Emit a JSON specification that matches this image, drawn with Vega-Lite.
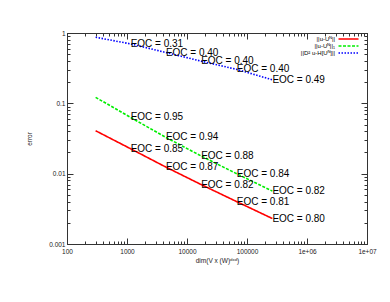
{
  "$schema": "https://vega.github.io/schema/vega-lite/v6.json",
  "width": 300,
  "height": 211,
  "autosize": "none",
  "padding": {"left": 67, "top": 33, "right": 23, "bottom": 58},
  "background": "white",
  "config": {
    "view": {"stroke": "#555", "strokeWidth": 1},
    "font": "Liberation Sans",
    "axis": {"grid": false, "domainColor": "#333", "tickColor": "#333", "labelColor": "#222", "titleColor": "#222", "labelFont": "Liberation Sans", "titleFont": "Liberation Sans", "labelFontSize": 6.5, "titleFontSize": 6.5, "titleFontWeight": "normal", "labelOverlap": false, "labelBound": false, "labelFlush": false}
  },
  "data": {
    "values": [
      {"series": "r", "dim": 300, "error": 0.0408, "label": ""},
      {"series": "r", "dim": 1150, "error": 0.0226, "label": "EOC = 0.85"},
      {"series": "r", "dim": 4450, "error": 0.0124, "label": "EOC = 0.87"},
      {"series": "r", "dim": 17200, "error": 0.0070, "label": "EOC = 0.82"},
      {"series": "r", "dim": 67500, "error": 0.0040, "label": "EOC = 0.81"},
      {"series": "r", "dim": 265000, "error": 0.0023, "label": "EOC = 0.80"},
      {"series": "g", "dim": 300, "error": 0.1217, "label": ""},
      {"series": "g", "dim": 1150, "error": 0.0630, "label": "EOC = 0.95"},
      {"series": "g", "dim": 4450, "error": 0.0328, "label": "EOC = 0.94"},
      {"series": "g", "dim": 17200, "error": 0.01785, "label": "EOC = 0.88"},
      {"series": "g", "dim": 67500, "error": 0.00997, "label": "EOC = 0.84"},
      {"series": "g", "dim": 265000, "error": 0.00565, "label": "EOC = 0.82"},
      {"series": "b", "dim": 300, "error": 0.87, "label": ""},
      {"series": "b", "dim": 1150, "error": 0.70, "label": "EOC = 0.31"},
      {"series": "b", "dim": 4450, "error": 0.528, "label": "EOC = 0.40"},
      {"series": "b", "dim": 17200, "error": 0.398, "label": "EOC = 0.40"},
      {"series": "b", "dim": 67500, "error": 0.304, "label": "EOC = 0.40"},
      {"series": "b", "dim": 265000, "error": 0.216, "label": "EOC = 0.49"}
    ]
  },
  "layer": [
    {
      "mark": {"type": "line", "strokeWidth": 1.6},
      "encoding": {
        "x": {"field": "dim", "type": "quantitative",
          "scale": {"type": "log", "domain": [100, 10000000], "nice": false},
          "axis": {"orient": "bottom", "title": "dim(V x (W)ᵈˣᵈ)", "titlePadding": 0,
            "values": [100,200,300,400,500,600,700,800,900,1000,2000,3000,4000,5000,6000,7000,8000,9000,10000,20000,30000,40000,50000,60000,70000,80000,90000,100000,200000,300000,400000,500000,600000,700000,800000,900000,1000000,2000000,3000000,4000000,5000000,6000000,7000000,8000000,9000000,10000000],
            "labelExpr": "abs(log(datum.value)/LN10 - round(log(datum.value)/LN10)) < 0.001 ? (datum.value >= 1000000 ? '1e+0' + round(log(datum.value)/LN10) : format(datum.value, 'd')) : ''",
            "tickSize": {"condition": {"test": "abs(log(datum.value)/LN10 - round(log(datum.value)/LN10)) < 0.001", "value": -6}, "value": -3},
            "labelPadding": 10}},
        "y": {"field": "error", "type": "quantitative",
          "scale": {"type": "log", "domain": [0.001, 1], "nice": false},
          "axis": {"orient": "left", "title": "error", "titlePadding": 16,
            "values": [0.001,0.002,0.003,0.004,0.005,0.006,0.007,0.008,0.009,0.01,0.02,0.03,0.04,0.05,0.06,0.07,0.08,0.09,0.1,0.2,0.3,0.4,0.5,0.6,0.7,0.8,0.9,1],
            "labelExpr": "abs(log(datum.value)/LN10 - round(log(datum.value)/LN10)) < 0.001 ? format(datum.value, '~g') : ''",
            "tickSize": {"condition": {"test": "abs(log(datum.value)/LN10 - round(log(datum.value)/LN10)) < 0.001", "value": -6}, "value": -3},
            "labelPadding": 8}},
        "color": {"field": "series", "type": "nominal",
          "scale": {"domain": ["r", "g", "b"], "range": ["#ff0000", "#00ee00", "#0000ff"]},
          "legend": {"title": null, "orient": "none", "legendX": 278, "legendY": 2.5,
            "labelExpr": "datum.value == 'r' ? '||u-Uᴺ||' : datum.value == 'g' ? '||u-Uᴺ||₁' : '||D² u-H[Uᴺ]||'",
            "symbolType": "M-4,0H4", "symbolSize": 25, "symbolStrokeWidth": 1.5,
            "labelFontSize": 6, "labelAlign": "right", "labelOffset": -17, "rowPadding": 0, "padding": 0}},
        "strokeDash": {"field": "series", "type": "nominal",
          "scale": {"domain": ["r", "g", "b"], "range": [[1, 0], [3, 1.5], [1.5, 1.5]]},
          "legend": null}
      }
    },
    {
      "transform": [{"filter": "datum.label != ''"}],
      "mark": {"type": "text", "align": "left", "baseline": "middle", "fontSize": 10, "font": "Liberation Sans", "color": "#000", "dx": 0},
      "encoding": {
        "x": {"field": "dim", "type": "quantitative", "axis": null},
        "y": {"field": "error", "type": "quantitative", "axis": null},
        "text": {"field": "label"}
      }
    },
    {
      "mark": {"type": "point", "opacity": 0},
      "encoding": {
        "x": {"field": "dim", "type": "quantitative",
          "axis": {"orient": "top", "labels": false, "title": null,
            "values": [100,200,300,400,500,600,700,800,900,1000,2000,3000,4000,5000,6000,7000,8000,9000,10000,20000,30000,40000,50000,60000,70000,80000,90000,100000,200000,300000,400000,500000,600000,700000,800000,900000,1000000,2000000,3000000,4000000,5000000,6000000,7000000,8000000,9000000,10000000],
            "tickSize": {"condition": {"test": "abs(log(datum.value)/LN10 - round(log(datum.value)/LN10)) < 0.001", "value": -6}, "value": -3}}},
        "y": {"field": "error", "type": "quantitative",
          "axis": {"orient": "right", "labels": false, "title": null,
            "values": [0.001,0.002,0.003,0.004,0.005,0.006,0.007,0.008,0.009,0.01,0.02,0.03,0.04,0.05,0.06,0.07,0.08,0.09,0.1,0.2,0.3,0.4,0.5,0.6,0.7,0.8,0.9,1],
            "tickSize": {"condition": {"test": "abs(log(datum.value)/LN10 - round(log(datum.value)/LN10)) < 0.001", "value": -6}, "value": -3}}}
      }
    }
  ],
  "resolve": {"axis": {"x": "independent", "y": "independent"}}
}
